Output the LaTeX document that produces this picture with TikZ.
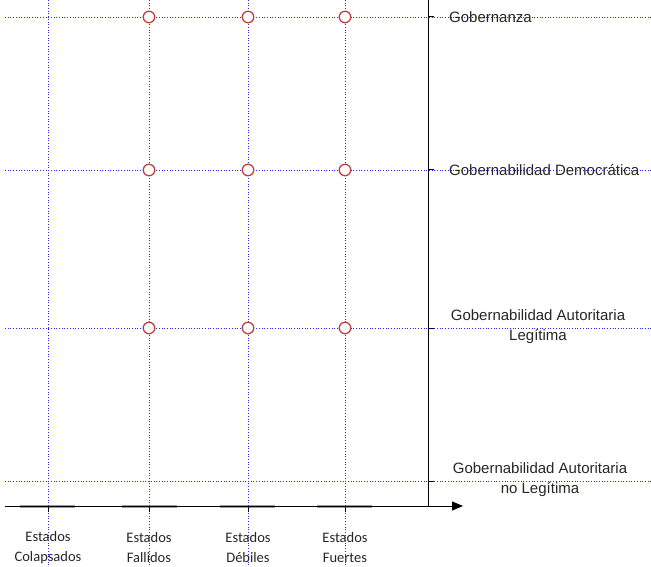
\documentclass[tikz,border=0pt]{standalone}
\usepackage{fontspec}
\setmainfont{Liberation Sans}
\newfontfamily\calib{Carlito}
\usetikzlibrary{arrows.meta}
\definecolor{gridblue}{RGB}{40,40,230}
\definecolor{circred}{RGB}{192,60,60}
\tikzset{
  gridline/.style={gridblue, dotted, line width=0.7pt},
  axisline/.style={black, line width=1pt},
  mark circle/.style={circle, draw=circred, fill=white, line width=1.3pt, minimum size=11.5pt, inner sep=0pt},
  ylabel/.style={font=\fontsize{15}{20}\selectfont, text=black!85, inner sep=0pt, align=center},
  xlabel/.style={font=\calib\fontsize{14.5}{20}\selectfont, text=black!85, inner sep=0pt, align=center},
}
\begin{document}
\begin{tikzpicture}[x=1pt,y=-1pt]
\useasboundingbox (0,0) rectangle (651,567);
% grey thick segments under x axis
\foreach \a/\b in {20/75,122/177,220/275,317/372}
  \draw[gray!80, line width=3pt] (\a,506) -- (\b,506);
% grid
\foreach \x in {48,149,248,345}
  \draw[gridline] (\x,0) -- (\x,567);
\foreach \y in {17,170,328,481}
  \draw[gridline] (5,\y) -- (651,\y);
% axes
\coordinate (xs) at (5,506);
\coordinate (xe) at (463,506);
\coordinate (yt) at (428,0);
\coordinate (yb) at (428,506);
\draw[axisline, -{Triangle[length=11pt,width=9pt]}] (xs) -- (xe);
\draw[axisline] (yt) -- (yb);
\foreach \x in {48,149,248,345}
  \draw[axisline] (\x,506) -- (\x,512);
\foreach \y in {17,170,328,481}
  \draw[axisline] (428,\y) -- (434,\y);
% circles
\foreach \y/\r in {17/a,170/b,328/c}
  \foreach \x/\c in {149/1,248/2,345/3}
    \node[mark circle] (m\r\c) at (\x,\y) {};
% y labels
\node[ylabel, anchor=west] (g1) at (449,17) {Gobernanza};
\node[ylabel, anchor=west] (g2) at (449,170) {Gobernabilidad Democrática};
\node[ylabel] (g3) at (538,327) {Gobernabilidad Autoritaria\\Legítima};
\node[ylabel] (g4) at (540,480) {Gobernabilidad Autoritaria\\no Legítima};
% x labels
\node[xlabel] (e1) at (48,548) {Estados\\Colapsados};
\node[xlabel] (e2) at (149,548) {Estados\\Fallidos};
\node[xlabel] (e3) at (248,548) {Estados\\Débiles};
\node[xlabel] (e4) at (345,548) {Estados\\Fuertes};
\end{tikzpicture}
\end{document}
